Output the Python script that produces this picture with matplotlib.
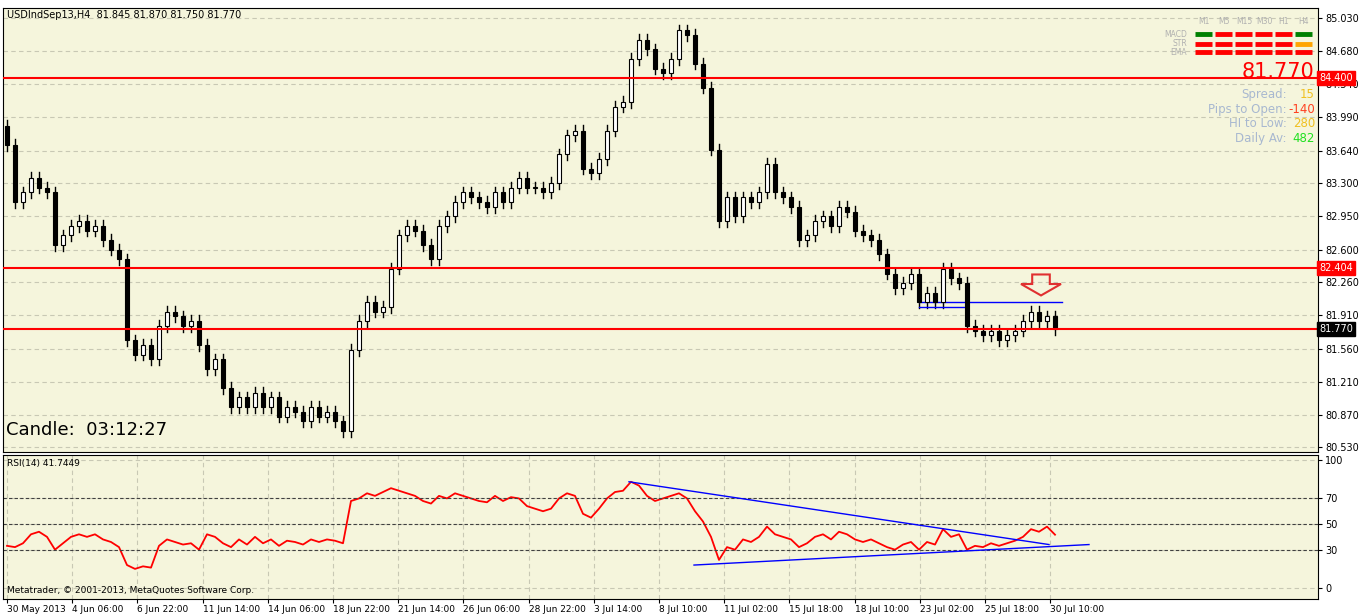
import matplotlib
matplotlib.use("Agg")
import matplotlib.pyplot as plt
from matplotlib.patches import FancyArrow

closes = [83.70,83.10,83.20,83.35,83.25,83.20,82.65,82.75,82.85,82.90,82.80,82.85,82.70,82.60,82.50,81.65,81.50,81.60,81.45,81.80,
81.95,81.90,81.80,81.85,81.60,81.35,81.45,81.15,80.95,81.05,80.95,81.10,80.95,81.05,80.85,80.95,80.90,80.80,80.95,80.85,
80.90,80.80,80.70,81.55,81.85,82.05,81.95,82.00,82.40,82.75,82.85,82.80,82.65,82.50,82.85,82.95,83.10,83.20,83.15,83.10,
83.05,83.20,83.10,83.25,83.35,83.25,83.25,83.20,83.30,83.60,83.80,83.85,83.45,83.40,83.55,83.85,84.10,84.15,84.60,84.80,
84.70,84.50,84.45,84.60,84.90,84.85,84.55,84.30,83.65,82.90,83.15,82.95,83.15,83.10,83.20,83.50,83.20,83.15,83.05,82.70,
82.75,82.90,82.95,82.85,83.05,83.00,82.80,82.75,82.70,82.55,82.35,82.20,82.25,82.35,82.05,82.15,82.05,82.40,82.30,82.25,
81.80,81.75,81.70,81.75,81.65,81.70,81.75,81.85,81.95,81.85,81.90,81.77]
rsi = [33,32,35,42,44,40,30,35,40,42,40,42,38,36,32,18,15,17,16,33,38,36,34,35,30,42,40,35,32,38,34,40,35,38,33,37,36,34,38,36,
38,37,35,68,70,74,72,75,78,76,74,72,68,66,72,70,74,72,70,68,67,72,68,71,70,64,62,60,62,70,74,72,58,55,62,70,75,76,83,80,
72,68,70,72,74,70,60,52,40,22,32,30,38,36,40,48,42,40,38,32,35,40,42,38,44,42,38,36,38,35,32,30,34,36,30,36,34,46,40,42,
30,33,32,35,33,35,37,40,46,44,48,41.7]
first_open = 83.90
price_ticks = [85.030,84.680,84.340,83.990,83.640,83.300,82.950,82.600,82.260,81.910,81.560,81.210,80.870,80.530]
date_labels = ["30 May 2013","4 Jun 06:00","6 Jun 22:00","11 Jun 14:00","14 Jun 06:00","18 Jun 22:00","21 Jun 14:00",
"26 Jun 06:00","28 Jun 22:00","3 Jul 14:00","8 Jul 10:00","11 Jul 02:00","15 Jul 18:00","18 Jul 10:00","23 Jul 02:00",
"25 Jul 18:00","30 Jul 10:00"]
levels = [84.400, 82.404, 81.770]

W, H = 1362, 614
fig = plt.figure(figsize=(W/100, H/100), dpi=100, facecolor="white")
bg = "#f5f5dc"
L, R = 3, 1318
ax = fig.add_axes([L/W, 1-452/H, (R-L)/W, (452-8)/H], facecolor=bg)
ax2 = fig.add_axes([L/W, 1-599/H, (R-L)/W, (599-455)/H], facecolor=bg)
px = lambda x: (x-3)/8
for a in (ax, ax2):
    a.set_xlim(px(L)-0.5, px(R)-0.5)
    a.yaxis.tick_right()
    a.tick_params(axis='y', labelsize=7, length=3, pad=2)
    a.grid(True, color="#c8c8b4", ls=(0,(4,3)), lw=0.8)
    for s in a.spines.values(): s.set_color("black")
ax.set_ylim(80.478, 85.135)
ax2.set_ylim(-8.5, 103.9)

opens = [first_open] + closes[:-1]
for i,(o,c) in enumerate(zip(opens, closes)):
    hi, lo = max(o,c)+0.06, min(o,c)-0.06
    ax.plot([i,i],[lo,hi], color="black", lw=1)
    ax.bar(i, abs(c-o) or 0.01, bottom=min(o,c), width=0.55,
           color="black" if c<o else "white", edgecolor="black", lw=0.8, zorder=3)

for lv in levels:
    ax.axhline(lv, color="red", lw=1.5, zorder=4)
ax.set_yticks(price_ticks)
ax.set_yticklabels([f"{t:.3f}" for t in price_ticks])
ax.set_xticks([])
for lv, col in zip(levels, ["red","red","black"]):
    ax.text(1.001, lv, f"{lv:.3f}", transform=ax.get_yaxis_transform(), color="white", fontsize=7,
            va="center", ha="left", bbox=dict(boxstyle="square,pad=0.2", fc=col, ec=col), zorder=10)
ax.plot([px(915),px(962)],[82.0,82.0], color="blue", lw=1)
ax.plot([px(915),px(1058)],[82.05,82.05], color="blue", lw=1)
ax.add_patch(FancyArrow(px(1037), 82.34, 0, -0.22, width=2.2, head_width=5.0, head_length=0.12,
                        length_includes_head=True, fc="none", ec="#e03030", lw=1.5, zorder=6))
ax.text(0.003, 0.995, "USDIndSep13,H4  81.845 81.870 81.750 81.770", transform=ax.transAxes, fontsize=7, va="top")
ax.text(0.002, 0.03, "Candle:  03:12:27", transform=ax.transAxes, fontsize=13, va="bottom")

tf = ["M1","M5","M15","M30","H1","H4"]
for j,t in enumerate(tf):
    x = 1200 + j*20
    fx = px(x)
    ax.text(fx, 84.97, t, color="#b0b0b0", fontsize=5.5, ha="center")
    for k,row in enumerate([84.86, 84.76, 84.67]):
        col = "red"
        if k==0 and j in (0,5): col = "green"
        if k==1 and j==5: col = "orange"
        ax.plot([px(x-9),px(x+8)],[row,row], color=col, lw=3.5, solid_capstyle="butt")
for lab,row in zip(["MACD","STR","EMA"],[84.86,84.76,84.67]):
    ax.text(px(1183), row, lab, color="#b0b0b0", fontsize=5.5, ha="right", va="center")
ax.text(px(1310), 84.36, "81.770", color="red", fontsize=15, ha="right", va="bottom")
info = [("Spread:","15","#f0c020"),("Pips to Open:","-140","#ff4020"),("HI to Low:","280","#f0c020"),("Daily Av:","482","#20e020")]
for k,(a,b,c) in enumerate(info):
    y = 84.23 - k*0.155
    ax.text(px(1283), y, a, color="#a8b8d0", fontsize=8.5, ha="right", va="center")
    ax.text(px(1311), y, b, color=c, fontsize=8.5, ha="right", va="center")

ax2.plot(range(len(rsi)), rsi, color="red", lw=1.3)
for lv in (70,50,30):
    ax2.axhline(lv, color="#404040", ls=(0,(3,2)), lw=0.8)
ax2.set_yticks([0,30,50,70,100])
ax2.plot([px(625),px(1045)],[83,34], color="blue", lw=1)
ax2.plot([px(690),px(1085)],[18,34], color="blue", lw=1)
ax2.text(0.003, 0.97, "RSI(14) 41.7449", transform=ax2.transAxes, fontsize=6.5, va="top")
ax2.text(0.003, 0.03, "Metatrader, © 2001-2013, MetaQuotes Software Corp.", transform=ax2.transAxes, fontsize=6.5, va="bottom")
ax2.set_xticks([px(3+i*65.2) for i in range(len(date_labels))])
ax2.set_xticklabels(date_labels, fontsize=6.5, ha="left")
ax2.tick_params(axis='x', length=3, pad=1)
fig.savefig("out.png", dpi=100, facecolor="white")
